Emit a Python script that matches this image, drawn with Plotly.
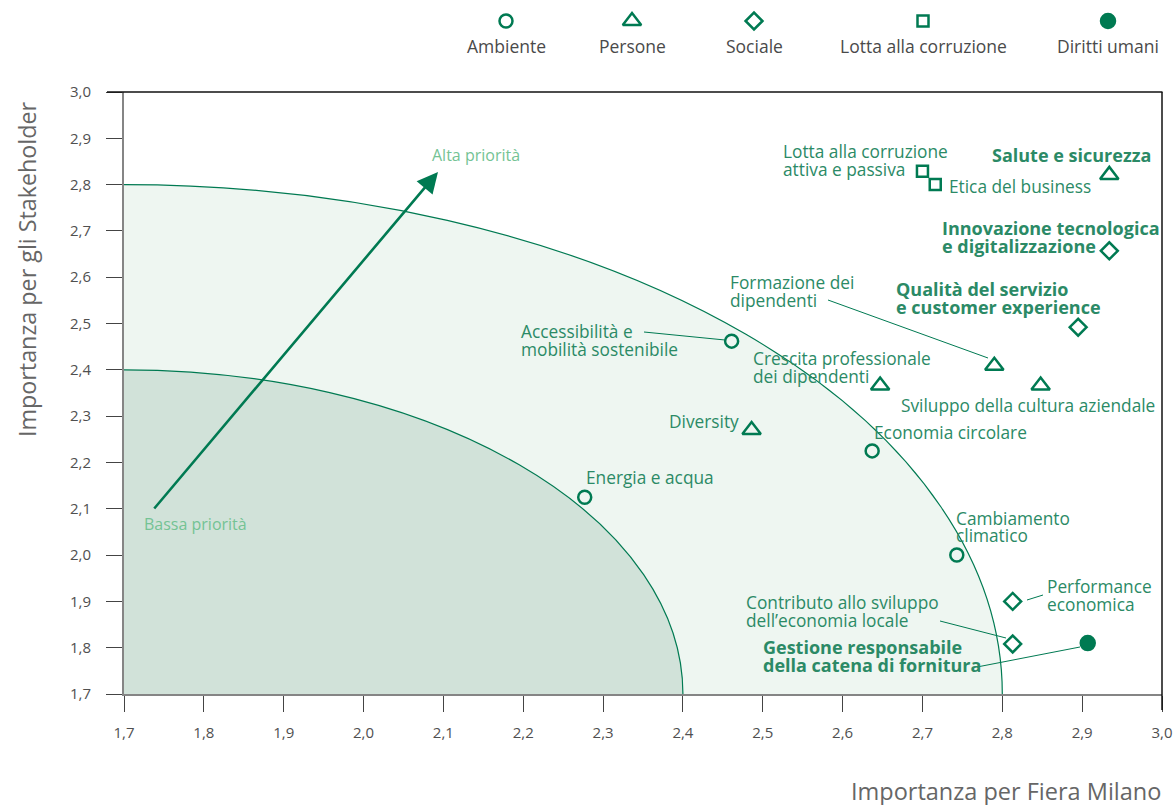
import plotly.graph_objects as go

# ---------------- data ----------------
categories = ["Ambiente", "Persone", "Sociale", "Lotta alla corruzione", "Diritti umani"]

topics = [
    "Lotta alla corruzione attiva e passiva", "Etica del business", "Salute e sicurezza",
    "Innovazione tecnologica e digitalizzazione", "Qualità del servizio e customer experience",
    "Formazione dei dipendenti", "Sviluppo della cultura aziendale", "Crescita professionale dei dipendenti",
    "Accessibilità e mobilità sostenibile", "Diversity", "Economia circolare", "Energia e acqua",
    "Cambiamento climatico", "Performance economica", "Contributo allo sviluppo dell’economia locale",
    "Gestione responsabile della catena di fornitura",
]
topic_x = [2.70, 2.716, 2.934, 2.934, 2.895, 2.790, 2.848, 2.647, 2.461, 2.486, 2.637, 2.277,
           2.743, 2.813, 2.813, 2.907]
topic_y = [2.829, 2.80, 2.821, 2.657, 2.492, 2.409, 2.366, 2.366, 2.462, 2.270, 2.225, 2.125,
           2.0, 1.90, 1.808, 1.81]
topic_cat = ["Lotta alla corruzione", "Lotta alla corruzione", "Persone", "Sociale", "Sociale",
             "Persone", "Persone", "Persone", "Ambiente", "Persone", "Ambiente", "Ambiente",
             "Ambiente", "Sociale", "Sociale", "Diritti umani"]

zone_radii = [1.1, 0.7]          # priority zones centred on the axes origin
axis_min, axis_max = 1.7, 3.0
tick_vals = [1.7, 1.8, 1.9, 2.0, 2.1, 2.2, 2.3, 2.4, 2.5, 2.6, 2.7, 2.8, 2.9, 3.0]
tick_text = ["1,7", "1,8", "1,9", "2,0", "2,1", "2,2", "2,3", "2,4", "2,5", "2,6", "2,7", "2,8", "2,9", "3,0"]

# ---------------- styles ----------------
GREEN = "#007a52"
TXT = "#2b8a66"
LIGHT = "#74c394"
FONT = "Open Sans"
sym = {
    "Ambiente": ("circle-open", 13),
    "Persone": ("triangle-up-open", 16),
    "Sociale": ("diamond-open", 13),
    "Lotta alla corruzione": ("square-open", 11),
    "Diritti umani": ("circle", 14),
}

W, H = 1176, 805
L, R, T, B = 124, 14, 0, 111
plot_top_px = 92
ydom_top = 1 - (plot_top_px - T) / (H - T - B)


def px(xp):
    return (xp - L) / (W - L - R)


def py(yp):
    return (H - B - yp) / (H - T - B)


fig = go.Figure()

zone_fill = ["#eef6f1", "#d1e2d9"]
shapes = []
for r, c in zip(zone_radii, zone_fill):
    shapes.append(dict(type="circle", xref="x", yref="y",
                       x0=axis_min - r, x1=axis_min + r, y0=axis_min - r, y1=axis_min + r,
                       fillcolor=c, line=dict(color=GREEN, width=1.2), layer="below"))

for cat in categories:
    xs = [x for x, c in zip(topic_x, topic_cat) if c == cat]
    ys = [y for y, c in zip(topic_y, topic_cat) if c == cat]
    s, sz = sym[cat]
    fig.add_trace(go.Scatter(x=xs, y=ys, mode="markers", name=cat, showlegend=False,
                             marker=dict(symbol=s, size=sz, color=GREEN,
                                         line=dict(color=GREEN, width=2.5)),
                             xaxis="x", yaxis="y"))

# legend (pixel-like helper axes)
leg_x = [506, 632, 754, 923, 1108]
for cat, lx in zip(categories, leg_x):
    s, sz = sym[cat]
    fig.add_trace(go.Scatter(x=[lx], y=[21], mode="markers", showlegend=False, hoverinfo="skip",
                             marker=dict(symbol=s, size=sz, color=GREEN,
                                         line=dict(color=GREEN, width=2.5)),
                             xaxis="x2", yaxis="y2"))

annotations = []
for cat, lx in zip(categories, leg_x):
    annotations.append(dict(text=cat, x=lx, y=46, xref="x2", yref="y2", showarrow=False,
                            xanchor="center", yanchor="middle",
                            font=dict(family=FONT, size=17.5, color="#4a4a4a")))

labels = [
    ("Lotta alla corruzione", 781, 151, False, "left"),
    ("attiva e passiva", 781, 169, False, "left"),
    ("Etica del business", 947, 186, False, "left"),
    ("Salute e sicurezza", 990, 155, True, "left"),
    ("Innovazione tecnologica", 940, 228, True, "left"),
    ("e digitalizzazione", 940, 246, True, "left"),
    ("Formazione dei", 728, 282, False, "left"),
    ("dipendenti", 728, 300, False, "left"),
    ("Qualità del servizio", 894, 289, True, "left"),
    ("e customer experience", 894, 307, True, "left"),
    ("Accessibilità e", 519, 331, False, "left"),
    ("mobilità sostenibile", 519, 349, False, "left"),
    ("Crescita professionale", 751, 358, False, "left"),
    ("dei dipendenti", 751, 376, False, "left"),
    ("Sviluppo della cultura aziendale", 899, 405, False, "left"),
    ("Diversity", 741, 421, False, "right"),
    ("Economia circolare", 872, 432, False, "left"),
    ("Energia e acqua", 584, 477, False, "left"),
    ("Cambiamento", 954, 518, False, "left"),
    ("climatico", 954, 535, False, "left"),
    ("Performance", 1045, 586, False, "left"),
    ("economica", 1045, 604, False, "left"),
    ("Contributo allo sviluppo", 744, 602, False, "left"),
    ("dell’economia locale", 744, 620, False, "left"),
    ("Gestione responsabile", 761, 647, True, "left"),
    ("della catena di fornitura", 761, 665, True, "left"),
]
for t, lx, ly, bold, anc in labels:
    annotations.append(dict(text=f"<b>{t}</b>" if bold else t, x=lx, y=ly, xref="x2", yref="y2",
                            showarrow=False, xanchor=anc, yanchor="middle",
                            font=dict(family=FONT, size=18 if bold else 17.3, color=TXT)))

annotations += [
    dict(text="Alta priorità", x=430, y=155, xref="x2", yref="y2", showarrow=False,
         xanchor="left", yanchor="middle", font=dict(family=FONT, size=16, color=LIGHT)),
    dict(text="Bassa priorità", x=142, y=524, xref="x2", yref="y2", showarrow=False,
         xanchor="left", yanchor="middle", font=dict(family=FONT, size=16, color=LIGHT)),
    dict(text="", x=438, y=172, ax=153, ay=510, xref="x2", yref="y2", axref="x2", ayref="y2",
         showarrow=True, arrowhead=2, arrowsize=1.6, arrowwidth=2.6, arrowcolor=GREEN, standoff=0),
    dict(text="Importanza per gli Stakeholder", x=px(27), y=py(269), xref="paper", yref="paper",
         showarrow=False, textangle=-90, xanchor="center", yanchor="middle",
         font=dict(family=FONT, size=23.3, color="#666666")),
    dict(text="Importanza per Fiera Milano", x=px(1163), y=py(791), xref="paper", yref="paper",
         showarrow=False, xanchor="right", yanchor="middle",
         font=dict(family=FONT, size=23.5, color="#666666")),
]

leaders = [
    (644, 332, 725, 340),
    (828, 300, 988, 358),
    (1027, 600, 1043, 595),
    (940, 621, 1006, 638),
    (977, 667, 1080, 647),
]
for x0, y0, x1, y1 in leaders:
    shapes.append(dict(type="line", xref="x2", yref="y2", x0=x0, y0=y0, x1=x1, y1=y1,
                       line=dict(color=GREEN, width=1)))

shapes.append(dict(type="line", xref="paper", yref="paper", x0=px(107), x1=px(1162.5),
                   y0=py(92), y1=py(92), line=dict(color="#111111", width=1.5)))
shapes.append(dict(type="line", xref="paper", yref="paper", x0=px(1162), x1=px(1162),
                   y0=py(92), y1=py(710), line=dict(color="#111111", width=1.5)))

axis_common = dict(range=[axis_min, axis_max], tickvals=tick_vals, ticktext=tick_text,
                   showgrid=False, zeroline=False, showline=True, linecolor="#858585", linewidth=2,
                   ticks="outside", ticklen=16, tickwidth=1, tickcolor="#444444", automargin=False,
                   tickfont=dict(family=FONT, size=15, color="#505050"))

fig.update_layout(
    template="none",
    width=W, height=H,
    margin=dict(l=L, r=R, t=T, b=B, pad=0, autoexpand=False),
    paper_bgcolor="white", plot_bgcolor="rgba(0,0,0,0)",
    xaxis=dict(domain=[0, 1], anchor="y", ticklabelstandoff=8, **axis_common),
    yaxis=dict(domain=[0, ydom_top], anchor="x", ticklabelstandoff=12, **axis_common),
    xaxis2=dict(domain=[0, 1], range=[L, W - R], anchor="y2", visible=False, fixedrange=True,
                automargin=False),
    yaxis2=dict(domain=[0, 1], range=[H - B, T], anchor="x2", visible=False, fixedrange=True,
                automargin=False),
    shapes=shapes, annotations=annotations, showlegend=False,
)

fig.write_html("out.html", config={"displayModeBar": False},
               post_script="document.body.style.margin='0';")
